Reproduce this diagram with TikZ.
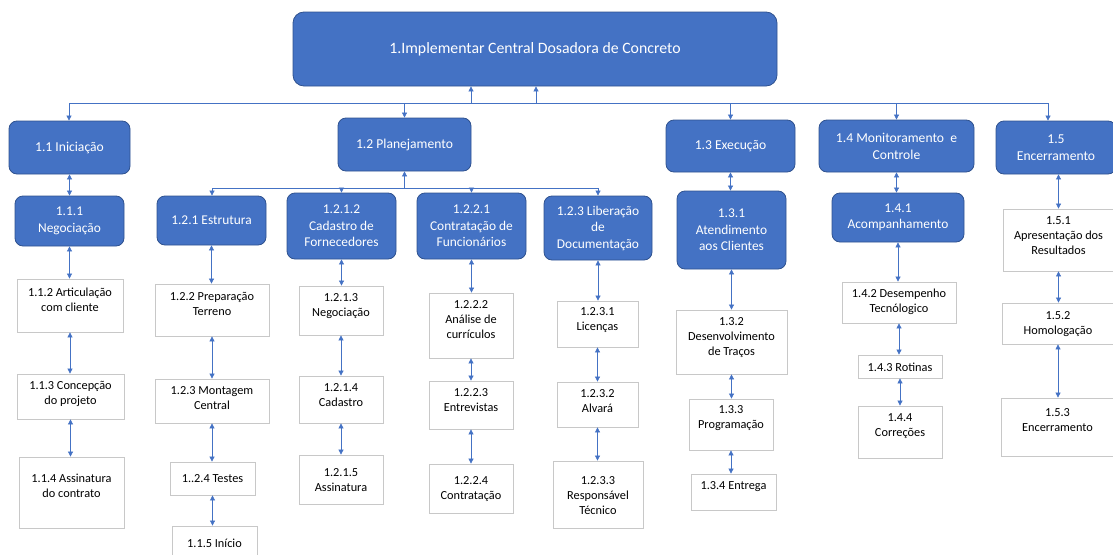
\documentclass[tikz,border=0pt]{standalone}
\usepackage{fontspec}
\setmainfont{Carlito}
\usetikzlibrary{arrows.meta,fit}
\definecolor{bluefill}{RGB}{68,114,196}
\definecolor{blueedge}{RGB}{47,82,143}
\definecolor{arrowc}{RGB}{68,114,196}
\definecolor{grayedge}{RGB}{200,200,200}
\newcommand\whitebox[7]{%
  \node[wbox, fit={(#2,#3) (#4,#5)}] (#1) {};
  \node[wtxt] (#1-t) at ({(#2+#4)/2},#6) {#7};
}
\newcommand\bluebox[7][lvltwo]{%
  \pgfmathsetmacro\bw{#5-#3}%
  \pgfmathsetmacro\bh{#6-#4}%
  \node[#1, minimum width=\bw pt, minimum height=\bh pt] (#2) at ({(#3+#5)/2},{(#4+#6)/2}) {#7};
}
\begin{document}
\begin{tikzpicture}[x=1pt,y=-1pt,
  rootbox/.style={draw=blueedge, fill=bluefill, rounded corners=11pt, line width=0.8pt, inner sep=0pt, text=white, align=center, font=\fontsize{15.8}{19}\selectfont},
  lvlone/.style={draw=blueedge, fill=bluefill, rounded corners=8pt, line width=0.8pt, inner sep=0pt, text=white, align=center, font=\fontsize{13.6}{17}\selectfont},
  lvltwo/.style={draw=blueedge, fill=bluefill, rounded corners=8pt, line width=0.8pt, inner sep=0pt, text=white, align=center, font=\fontsize{13.4}{16.5}\selectfont},
  wbox/.style={draw=grayedge, fill=white, line width=0.8pt, inner sep=0pt},
  wtxt/.style={inner sep=0pt, align=center, text=black, font=\fontsize{12.3}{15}\selectfont},
  conn/.style={draw=arrowc, line width=0.7pt},
  arr/.style={conn, -{Triangle[length=5pt,width=5pt]}},
  dbl/.style={conn, {Triangle[length=5pt,width=5pt]}-{Triangle[length=5pt,width=5pt]}}
]
\useasboundingbox (0,0) rectangle (1113,554);

% root
\bluebox[rootbox]{root}{293}{12}{777}{86}{1.Implementar Central Dosadora de Concreto}

% level 1
\bluebox[lvlone]{n11}{9}{121}{130}{174}{1.1 Iniciação}
\bluebox[lvlone]{n12}{338}{118}{471}{171}{1.2 Planejamento}
\bluebox[lvlone]{n13}{666}{120}{795}{172}{1.3 Execução}
\bluebox[lvlone]{n14}{819}{120}{974}{172}{1.4 Monitoramento\ \ e\\Controle}
\bluebox[lvlone]{n15}{996}{121}{1116}{174}{1.5\\Encerramento}

% level 2
\bluebox{n111}{15}{196}{124}{246}{1.1.1\\Negociação}
\bluebox{n121}{157}{196}{266}{245}{1.2.1 Estrutura}
\bluebox{n1212}{287}{193}{396}{259}{1.2.1.2\\Cadastro de\\Fornecedores}
\bluebox{n1221}{417}{193}{526}{259}{1.2.2.1\\Contratação de\\Funcionários}
\bluebox{n123}{544}{196}{652}{260}{1.2.3 Liberação\\de\\Documentação}
\bluebox{n131}{677}{191}{786}{269}{1.3.1\\Atendimento\\aos Clientes}
\bluebox{n141}{832}{193}{964}{242}{1.4.1\\Acompanhamento}

% white boxes
\whitebox{n112}{17}{279}{123}{332}{299.5}{1.1.2 Articulação\\com cliente}
\whitebox{n113}{17}{374}{124}{419}{393.5}{1.1.3 Concepção\\do projeto}
\whitebox{n114}{19}{457}{124}{528}{485.5}{1.1.4 Assinatura\\do contrato}
\whitebox{n122}{155}{284}{269}{336}{304}{1.2.2 Preparação\\Terreno}
\whitebox{n123m}{155}{379}{269}{423}{398.5}{1.2.3 Montagem\\Central}
\whitebox{n124}{170}{462}{255}{495}{479}{1..2.4 Testes}
\whitebox{n115}{172}{526}{257}{562}{543}{1.1.5 Início}
\whitebox{n1213}{299}{286}{383}{335}{306}{1.2.1.3\\Negociação}
\whitebox{n1214}{299}{376}{383}{423}{395.5}{1.2.1.4\\Cadastro}
\whitebox{n1215}{299}{455}{383}{504}{480.5}{1.2.1.5\\Assinatura}
\whitebox{n1222}{429}{293}{513}{358}{320}{1.2.2.2\\Análise de\\currículos}
\whitebox{n1223}{429}{381}{513}{429}{400.5}{1.2.2.3\\Entrevistas}
\whitebox{n1224}{429}{464}{513}{513}{489.5}{1.2.2.4\\Contratação}
\whitebox{n1231}{557}{301}{638}{347}{320.5}{1.2.3.1\\Licenças}
\whitebox{n1232}{557}{382}{638}{427}{401.5}{1.2.3.2\\Alvará}
\whitebox{n1233}{553}{461}{643}{528}{496}{1.2.3.3\\Responsável\\Técnico}
\whitebox{n132}{676}{310}{787}{374}{338}{1.3.2\\Desenvolvimento\\de Traços}
\whitebox{n133}{689}{399}{773}{450}{418.5}{1.3.3\\Programação}
\whitebox{n134}{691}{474}{776}{510}{487}{1.3.4 Entrega}
\whitebox{n142}{842}{282}{956}{323}{301.5}{1.4.2 Desempenho\\Tecnólogico}
\whitebox{n143}{858}{355}{942}{378}{367}{1.4.3 Rotinas}
\whitebox{n144}{858}{406}{942}{458}{426.5}{1.4.4\\Correções}
\whitebox{n151}{1003}{209}{1114}{271}{236}{1.5.1\\Apresentação dos\\Resultados}
\whitebox{n152}{1002}{303}{1114}{344}{324.5}{1.5.2\\Homologação}
\whitebox{n153}{1001}{398}{1114}{456}{420.5}{1.5.3\\Encerramento}

% top bus
\coordinate (busL) at (69,103);
\coordinate (busR) at (1048,103);
\coordinate (up1) at (471,103);
\coordinate (up2) at (536,103);
\draw[conn] (busL) -- (busR);
\draw[arr] (up1) -- (up1 |- root.south);
\draw[arr] (up2) -- (up2 |- root.south);
\draw[arr] (busL) -- (busL |- n11.north);
\draw[arr] (n12.north |- busL) -- (n12.north);
\draw[arr] (n13.north |- busL) -- (n13.north);
\draw[arr] (n14.north |- busL) -- (n14.north);
\draw[arr] (busR) -- (busR |- n15.north);

% planejamento bus
\coordinate (pbL) at (212,188);
\coordinate (pbR) at (598,188);
\draw[conn] (pbL) -- (pbR);
\draw[arr] (n12.south |- pbL) -- (n12.south);
\draw[arr] (pbL) -- (pbL |- n121.north);
\draw[arr] (n1212.north |- pbL) -- (n1212.north);
\draw[arr] (n1221.north |- pbL) -- (n1221.north);
\draw[arr] (pbR) -- (pbR |- n123.north);

% vertical chains
\draw[dbl] (n111.north |- n11.south) -- (n111.north);
\draw[dbl] (n111.south) -- (n111.south |- n112.north);
\draw[dbl] (n112.south) -- (n112.south |- n113.north);
\draw[dbl] (n113.south) -- (n113.south |- n114.north);

\draw[dbl] (n121.south) -- (n121.south |- n122.north);
\draw[dbl] (n122.south) -- (n122.south |- n123m.north);
\draw[dbl] (n123m.south) -- (n123m.south |- n124.north);
\draw[dbl] (n124.south) -- (n124.south |- n115.north);

\draw[dbl] (n1212.south) -- (n1212.south |- n1213.north);
\draw[dbl] (n1213.south) -- (n1213.south |- n1214.north);
\draw[dbl] (n1214.south) -- (n1214.south |- n1215.north);

\draw[dbl] (n1221.south) -- (n1221.south |- n1222.north);
\draw[dbl] (n1222.south) -- (n1222.south |- n1223.north);
\draw[dbl] (n1223.south) -- (n1223.south |- n1224.north);

\draw[dbl] (n123.south) -- (n123.south |- n1231.north);
\draw[dbl] (n1231.south) -- (n1231.south |- n1232.north);
\draw[dbl] (n1232.south) -- (n1232.south |- n1233.north);

\draw[dbl] (n13.south) -- (n13.south |- n131.north);
\draw[dbl] (n131.south) -- (n131.south |- n132.north);
\draw[dbl] (n132.south) -- (n132.south |- n133.north);
\draw[dbl] (n133.south) -- (n133.south |- n134.north);

\draw[dbl] (n14.south) -- (n14.south |- n141.north);
\draw[dbl] (n141.south) -- (n141.south |- n142.north);
\draw[dbl] (n142.south) -- (n142.south |- n143.north);
\draw[dbl] (n143.south) -- (n143.south |- n144.north);

\draw[dbl] (n151.north |- n15.south) -- (n151.north);
\draw[dbl] (n151.south) -- (n151.south |- n152.north);
\draw[dbl] (n152.south) -- (n152.south |- n153.north);
\end{tikzpicture}
\end{document}
